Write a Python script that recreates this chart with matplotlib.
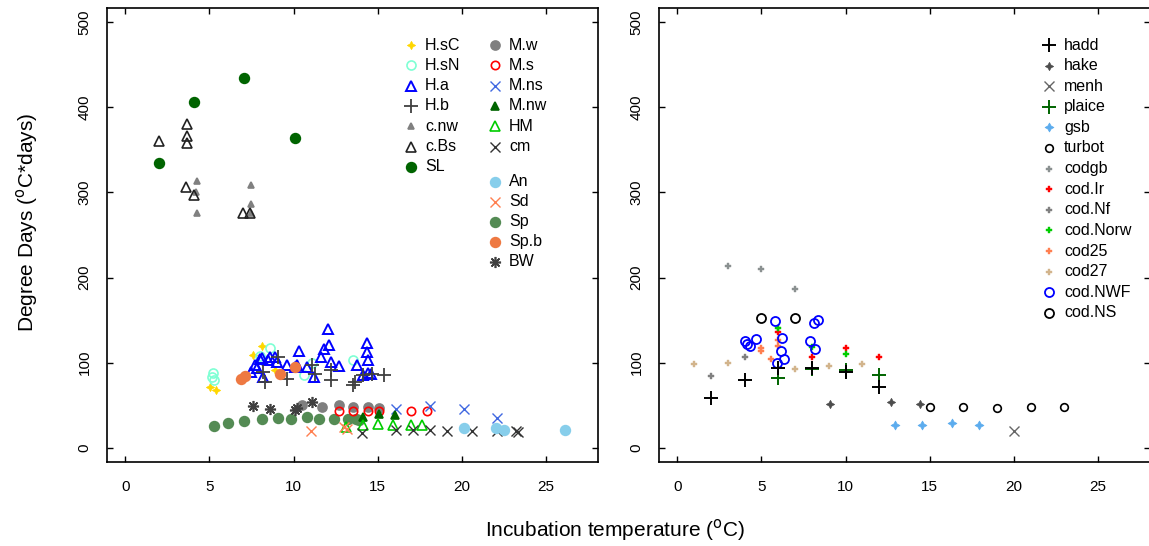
import matplotlib
matplotlib.use("Agg")
import matplotlib.pyplot as plt

# fonts: R-ish Arial look, narrow digits on the axes
plt.rcParams.update({"font.family": ["Liberation Sans Narrow", "Liberation Sans", "DejaVu Sans"],
                     "font.size": 11})

# ---- left panel data: incubation temperature (C) and degree days ----
hsc_t = [5.05, 5.4, 7.6, 8.1, 8.9]
hsc_dd = [71, 68, 109, 119, 91]
hsn_t = [5.15, 5.24, 5.3, 8.0, 8.6, 10.6, 11.1, 13.5]
hsn_dd = [83, 88, 79, 108, 117, 85, 99, 103]
ha_t = [7.5, 7.7, 7.8, 8.0, 8.1, 8.5, 8.6, 8.9, 9.0, 9.6, 10.1, 10.2, 10.3, 10.8,
        11.2, 11.6, 11.8, 12.04, 12.1, 12.2, 12.7, 13.75, 14.15, 14.35, 14.35,
        14.45, 8.2, 14.4, 14.6]
ha_dd = [89, 97, 93, 104, 105, 103, 106, 106, 101, 97, 95, 97, 114, 95,
         83, 107, 116, 140, 121, 101, 96, 97, 85, 123, 112,
         103, 83, 88, 86]
hb_t = [8.2, 8.3, 9.1, 9.6, 11.1, 11.3, 12.2, 12.2, 13.55, 13.66, 14.15, 14.65, 15.35]
hb_dd = [89, 77, 107, 81, 97, 87, 91, 79, 73, 77, 85, 87, 85]
cnw_t = [4.26, 4.26, 4.2, 7.5, 7.5, 7.5]
cnw_dd = [313, 276, 300, 309, 287, 276]
cbs_t = [2.0, 3.66, 3.66, 3.66, 3.62, 4.1, 7.0, 7.4]
cbs_dd = [360, 381, 366, 358, 306, 297, 276, 276]
sl_t = [2.0, 4.08, 7.08, 10.1]
sl_dd = [335, 407, 435, 364]
mw_t = [10.5, 11.7, 12.7, 13.55, 14.45, 15.1]
mw_dd = [50, 48, 50, 48, 48, 46]
ms_t = [12.7, 13.5, 14.45, 15.1, 17.0, 17.9]
ms_dd = [43, 43, 43, 43, 43, 43]
mns_t = [16.1, 18.1, 20.1, 22.1]
mns_dd = [45, 49, 45, 35]
mnw_t = [14.1, 15.05, 16.05]
mnw_dd = [36, 39, 38]
hm_t = [13.1, 14.1, 15.0, 15.9, 17.0, 17.6]
hm_dd = [24, 27, 28, 26, 26, 26]
cm_t = [14.05, 16.1, 17.1, 18.1, 19.1, 20.6, 22.1, 23.2, 23.35]
cm_dd = [17, 21, 21, 21, 20, 19, 19, 19, 18]
an_t = [20.1, 22.0, 22.5, 26.1]
an_dd = [23, 23, 21, 21]
sd_t = [11.05, 13.0, 13.2]
sd_dd = [19, 24, 22]
sp_t = [5.3, 6.1, 7.08, 8.1, 9.07, 9.84, 10.8, 11.5, 12.4, 13.25, 13.7, 13.9]
sp_dd = [25, 29, 31, 33, 35, 33, 36, 33, 33, 33, 33, 32]
spb_t = [6.9, 7.1, 9.2, 10.1]
spb_dd = [81, 84, 86, 95]
bw_t = [7.58, 8.6, 10.1, 10.2, 11.1]
bw_dd = [49, 45, 44, 46, 53]

# ---- right panel data ----
hadd_t = [2, 4, 6, 8, 10, 12]
hadd_dd = [58, 80, 93, 94, 89, 71]
hake_t = [9.1, 12.7, 14.45]
hake_dd = [51, 53, 51]
menh_t = [20]
menh_dd = [20]
plaice_t = [6, 8, 10, 12]
plaice_dd = [82, 92, 91, 85]
gsb_t = [12.95, 14.55, 16.3, 17.9]
gsb_dd = [27, 27, 28.5, 27]
turbot_t = [15, 17, 19, 21, 23]
turbot_dd = [48, 48, 47, 48, 48]
codgb_t = [3, 5, 7]
codgb_dd = [213, 210, 187]
codir_t = [6, 8, 10, 12]
codir_dd = [136, 106, 117, 106]
codnf_t = [2, 4]
codnf_dd = [84, 106]
codnorw_t = [6, 8, 10]
codnorw_dd = [141, 118, 110]
cod25_t = [5, 5, 5.6, 6, 6]
cod25_dd = [117, 113, 104, 126, 120]
cod27_t = [1, 3, 7, 9, 11]
cod27_dd = [98.5, 100, 92.5, 96.5, 98.5]
codnwf_t = [4.0, 4.15, 4.3, 4.69, 5.78, 5.9, 6.19, 6.23, 6.33, 7.91, 8.11, 8.2, 8.35]
codnwf_dd = [125, 122, 119, 128, 149, 100, 113, 129, 104, 125, 146, 116, 150]
codns_t = [5, 7]
codns_dd = [152, 152]

star4 = (4, 1, 0)
aster = (8, 2, 0)


def st(marker, color, ms, filled=True, lw=1.2):
    return dict(marker=marker, ms=ms, mec=color, mew=lw,
                mfc=color if filled else "none", ls="none")


# style per series
left_styles = {
    "H.sC": st(star4, "#FFD700", 6, lw=0.5),
    "H.sN": st("o", "#7FFFD4", 6.5, False),
    "H.a": st("^", "blue", 7, False, 1.4),
    "H.b": st("+", "#404040", 10, lw=1.3),
    "c.nw": st("^", "#808080", 5),
    "c.Bs": st("^", "#222222", 7, False, 1.2),
    "SL": st("o", "#006400", 7),
    "M.w": st("o", "#7F7F7F", 6.5),
    "M.s": st("o", "red", 6, False, 1.2),
    "M.ns": st("x", "#4169E1", 7, lw=1.0),
    "M.nw": st("^", "#006400", 5.5),
    "HM": st("^", "#00CD00", 7, False, 1.2),
    "cm": st("x", "#333333", 7, lw=1.0),
    "An": st("o", "#87CEEB", 7),
    "Sd": st("x", "#FF7F50", 7, lw=1.0),
    "Sp": st("o", "#548B54", 7),
    "Sp.b": st("o", "#EE7942", 7),
    "BW": st(aster, "#404040", 8, lw=1.2),
}
right_styles = {
    "hadd": st("+", "black", 10, lw=1.4),
    "hake": st(star4, "#4D4D4D", 6, lw=0.5),
    "menh": st("x", "#666666", 7, lw=1.0),
    "plaice": st("+", "#006400", 10, lw=1.4),
    "gsb": st(star4, "#5CACEE", 6.5, lw=0.5),
    "turbot": st("o", "black", 5.5, False, 1.2),
    "codgb": st("P", "#8A9090", 4.5, lw=0.3),
    "cod.Ir": st("P", "red", 4.5, lw=0.3),
    "cod.Nf": st("P", "#808080", 4.5, lw=0.3),
    "cod.Norw": st("P", "#00CD00", 4.5, lw=0.3),
    "cod25": st("P", "#FF7F50", 4.5, lw=0.3),
    "cod27": st("P", "#D2B48C", 4.5, lw=0.3),
    "cod.NWF": st("o", "blue", 6.5, False, 1.3),
    "cod.NS": st("o", "black", 6.5, False, 1.3),
}

left_data = {
    "H.sC": (hsc_t, hsc_dd), "H.sN": (hsn_t, hsn_dd), "H.a": (ha_t, ha_dd),
    "H.b": (hb_t, hb_dd), "c.nw": (cnw_t, cnw_dd), "c.Bs": (cbs_t, cbs_dd),
    "SL": (sl_t, sl_dd), "Sp": (sp_t, sp_dd), "M.w": (mw_t, mw_dd),
    "M.s": (ms_t, ms_dd), "M.ns": (mns_t, mns_dd), "M.nw": (mnw_t, mnw_dd),
    "HM": (hm_t, hm_dd), "cm": (cm_t, cm_dd), "An": (an_t, an_dd),
    "Sd": (sd_t, sd_dd), "Sp.b": (spb_t, spb_dd), "BW": (bw_t, bw_dd),
}
right_data = {
    "cod27": (cod27_t, cod27_dd), "codgb": (codgb_t, codgb_dd),
    "cod.Nf": (codnf_t, codnf_dd), "cod25": (cod25_t, cod25_dd),
    "cod.Ir": (codir_t, codir_dd), "cod.Norw": (codnorw_t, codnorw_dd),
    "hake": (hake_t, hake_dd), "menh": (menh_t, menh_dd), "gsb": (gsb_t, gsb_dd),
    "turbot": (turbot_t, turbot_dd), "cod.NS": (codns_t, codns_dd),
    "cod.NWF": (codnwf_t, codnwf_dd), "plaice": (plaice_t, plaice_dd),
    "hadd": (hadd_t, hadd_dd),
}

fig = plt.figure(figsize=(11.49, 5.46), dpi=100)
ax1 = fig.add_axes([107 / 1149, 1 - 462 / 546, 491 / 1149, 454 / 546])
ax2 = fig.add_axes([659 / 1149, 1 - 462 / 546, 491 / 1149, 454 / 546])

for ax, data, styles in [(ax1, left_data, left_styles), (ax2, right_data, right_styles)]:
    for name, (t, dd) in data.items():
        ax.plot(t, dd, **styles[name])
    ax.set_xlim(-1.08, 28.08)
    ax.set_ylim(-17, 517)
    ax.set_xticks([0, 5, 10, 15, 20, 25])
    ax.set_yticks([0, 100, 200, 300, 400, 500])
    ax.tick_params(direction="in", length=4, width=1, top=True, right=True,
                   labelsize=11, pad=13)
    ax.tick_params(axis="y", labelrotation=90, pad=11)
    for lab in ax.get_yticklabels():
        lab.set_va("center")
    for sp in ax.spines.values():
        sp.set_linewidth(1.2)


def legend_col(ax, names, styles, xm, xt, y0, step=20.3 / 454):
    for i, name in enumerate(names):
        y = y0 - i * step
        ax.plot([xm], [y], transform=ax.transAxes, clip_on=False, **styles[name])
        ax.text(xt, y, name, transform=ax.transAxes, va="center", ha="left",
                fontsize=11.5, family=["Liberation Sans", "DejaVu Sans"])


y_first = 1 - (45 - 8) / 454
legend_col(ax1, ["H.sC", "H.sN", "H.a", "H.b", "c.nw", "c.Bs", "SL"], left_styles,
           (411 - 107) / 491, (425 - 107) / 491, y_first)
legend_col(ax1, ["M.w", "M.s", "M.ns", "M.nw", "HM", "cm"], left_styles,
           (495 - 107) / 491, (509 - 107) / 491, y_first)
legend_col(ax1, ["An", "Sd", "Sp", "Sp.b", "BW"], left_styles,
           (495 - 107) / 491, (509 - 107) / 491, 1 - (182 - 8) / 454, step=19.9 / 454)
legend_col(ax2, ["hadd", "hake", "menh", "plaice", "gsb", "turbot", "codgb", "cod.Ir",
                 "cod.Nf", "cod.Norw", "cod25", "cod27", "cod.NWF", "cod.NS"],
           right_styles, (1049 - 659) / 491, (1064 - 659) / 491, y_first,
           step=20.6 / 454)

fig.text(27 / 1149, 1 - 222 / 546, r"Degree Days ($^\mathrm{o}$C*days)", rotation=90,
         ha="center", va="center", fontsize=15, family=["Liberation Sans", "DejaVu Sans"])
fig.text(615 / 1149, 1 - 530 / 546, r"Incubation temperature ($^\mathrm{o}$C)",
         ha="center", va="center", fontsize=15)

fig.savefig("out.png", dpi=100)
